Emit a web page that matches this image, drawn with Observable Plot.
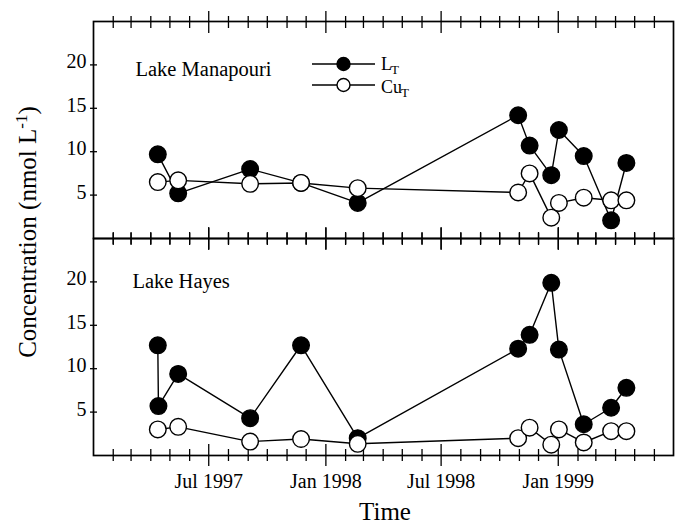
<!DOCTYPE html>
<html><head><meta charset="utf-8">
<script src="https://cdn.jsdelivr.net/npm/d3@7"></script>
<script src="https://cdn.jsdelivr.net/npm/@observablehq/plot@0.6"></script>
<style>
body{margin:0;background:#fff}
#chart{position:relative;width:675px;height:524px}
#chart svg, #chart svg text{font-family:"Liberation Serif","Times New Roman",serif !important}
</style>
</head><body><div id="chart"></div>
<script>
const lakes = ["Lake Manapouri", "Lake Hayes"];
const sampleDates = ["1997-04-12","1997-05-14","1997-09-04","1997-11-23","1998-02-20","1998-10-30","1998-11-17","1998-12-21","1999-01-02","1999-02-10","1999-03-25","1999-04-18"];
const manapouriLT  = [9.7, 5.2, 8.0, 6.4, 4.1, 14.2, 10.7, 7.3, 12.5, 9.5, 2.1, 8.7];
const manapouriCuT = [6.5, 6.7, 6.3, 6.4, 5.8, 5.3, 7.5, 2.4, 4.1, 4.7, 4.4, 4.4];
const hayesLTDates = ["1997-04-12","1997-04-13","1997-05-14","1997-09-04","1997-11-23","1998-02-20","1998-10-30","1998-11-17","1998-12-21","1999-01-02","1999-02-10","1999-03-25","1999-04-18"];
const hayesLT  = [12.7, 5.7, 9.4, 4.3, 12.7, 2.0, 12.3, 13.9, 19.9, 12.2, 3.6, 5.5, 7.8];
const hayesCuT = [3.0, 3.3, 1.6, 1.9, 1.35, 2.0, 3.2, 1.25, 3.0, 1.5, 2.8, 2.8];
const majorTickDates = ["1997-07-01","1998-01-01","1998-07-01","1999-01-01"];
const yTickValues = [5, 10, 15, 20];
const xDomainDates = ["1997-01-01", "1999-07-01"];

const toRows = (lake, series, dates, values) => values.map((v, i) => ({lake, series, date: new Date(dates[i]), value: v}));
const ltRows = [...toRows(lakes[0], "LT", sampleDates, manapouriLT), ...toRows(lakes[1], "LT", hayesLTDates, hayesLT)];
const cuRows = [...toRows(lakes[0], "CuT", sampleDates, manapouriCuT), ...toRows(lakes[1], "CuT", sampleDates, hayesCuT)];

const majors = majorTickDates.map(d => new Date(d));
const minors = d3.utcMonth.range(new Date("1997-02-01"), new Date("1999-07-01")).filter(d => d.getUTCMonth() % 6 !== 0);

const tickAxis = (anchor, ticks, half) => Plot.axisX({anchor, ticks, tickSize: half * 2, dy: anchor === "top" ? half : -half, fill: "none", label: null, facetAnchor: null, strokeWidth: 1.3});

const chart = Plot.plot({
  width: 675, height: 524,
  marginTop: 21, marginBottom: 69, marginLeft: 93, marginRight: 2,
  style: {fontFamily: "'Liberation Serif', serif", fontSize: "20px", color: "black", background: "white"},
  x: {type: "utc", domain: xDomainDates.map(d => new Date(d))},
  y: {domain: [0, 25]},
  fy: {domain: lakes, padding: 0, axis: null},
  marks: [
    Plot.frame({strokeWidth: 1.7}),
    tickAxis("top", minors, 6), tickAxis("bottom", minors, 6),
    tickAxis("top", majors, 11), tickAxis("bottom", majors, 11),
    Plot.axisX({anchor: "bottom", ticks: majors, tickSize: 0, tickPadding: 18, tickFormat: d3.utcFormat("%b %Y"), label: null, fontSize: 20}),
    Plot.axisY({anchor: "left", ticks: yTickValues, tickSize: 7, dx: 4, fill: "none", label: null, strokeWidth: 1.3}),
    Plot.axisY({anchor: "left", ticks: yTickValues, tickSize: 0, tickPadding: 7, dy: -3, label: null, fontSize: 20}),
    Plot.axisY({anchor: "right", ticks: yTickValues, tickSize: 5, dx: 5, fill: "none", label: null, strokeWidth: 1.3}),
    Plot.text([lakes[0]], {fy: d => d, text: d => d, frameAnchor: "top-left", dx: 42, dy: 54, textAnchor: "start", lineAnchor: "bottom", fontSize: 20.5}),
    Plot.text([lakes[1]], {fy: d => d, text: d => d, frameAnchor: "top-left", dx: 39, dy: 49, textAnchor: "start", lineAnchor: "bottom", fontSize: 20.5}),
    Plot.line(ltRows, {x: "date", y: "value", fy: "lake", stroke: "black", strokeWidth: 1.4}),
    Plot.line(cuRows, {x: "date", y: "value", fy: "lake", stroke: "black", strokeWidth: 1.4}),
    Plot.dot(ltRows, {x: "date", y: "value", fy: "lake", r: 8.3, fill: "black", stroke: "black", strokeWidth: 1.4}),
    Plot.dot(cuRows, {x: "date", y: "value", fy: "lake", r: 8.3, fill: "white", stroke: "black", strokeWidth: 1.4})
  ]
});
document.getElementById("chart").appendChild(chart);

// Legend and axis titles (non-data annotations)
const svg = d3.select(chart);
const g = svg.append("g").attr("fill", "black").attr("text-anchor", "start");
const legendItems = [{name: "L", y: 64, fill: "black", base: 70}, {name: "Cu", y: 85, fill: "white", base: 93}];
legendItems.forEach(it => {
  g.append("line").attr("x1", 312).attr("x2", 375).attr("y1", it.y).attr("y2", it.y).attr("stroke", "black").attr("stroke-width", 1.4);
  g.append("circle").attr("cx", 343.5).attr("cy", it.y).attr("r", 6.5).attr("fill", it.fill).attr("stroke", "black").attr("stroke-width", 1.4);
  const t = g.append("text").attr("x", 381).attr("y", it.base).attr("font-size", 18).attr("text-anchor", "start").text(it.name);
  const w = t.node().getComputedTextLength();
  g.append("text").attr("x", 381 + w - 1).attr("y", it.base + 4).attr("font-size", 13).attr("text-anchor", "start").text("T");
});
const yl = g.append("text").attr("transform", "translate(36,232) rotate(-90)").attr("text-anchor", "middle").attr("font-size", 25);
yl.append("tspan").text("Concentration (nmol L");
yl.append("tspan").attr("dy", -9).attr("font-size", 17).text("-1");
yl.append("tspan").attr("dy", 9).text(")");
g.append("text").attr("x", 385).attr("y", 520).attr("text-anchor", "middle").attr("font-size", 25).text("Time");
</script>
</body></html>
